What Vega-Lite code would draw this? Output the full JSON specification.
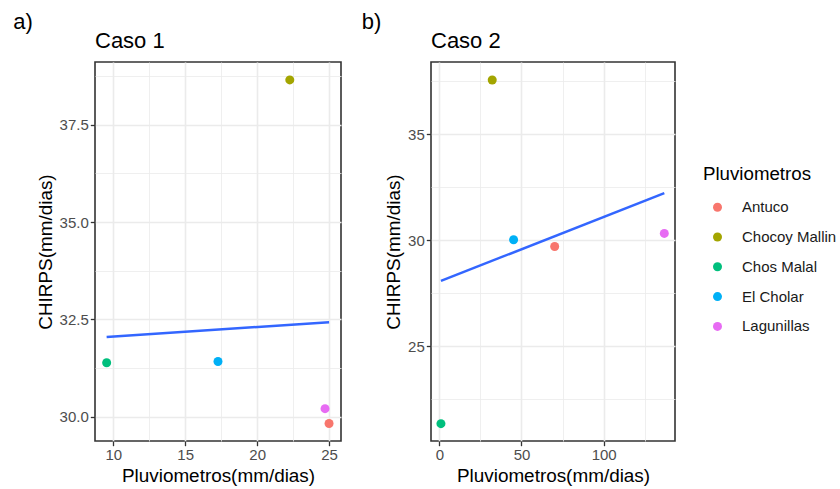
{
  "$schema": "https://vega.github.io/schema/vega-lite/v6.json",
  "padding": {"left": 13, "top": 11, "right": 0, "bottom": 0},
  "background": "white",
  "config": {
    "font": "Liberation Sans",
    "view": {"stroke": "#333333", "strokeWidth": 1.6},
    "axis": {
      "domain": false,
      "grid": true,
      "gridColor": "#EBEBEB",
      "tickColor": "#333333",
      "tickSize": 4.7,
      "tickWidth": 1.3,
      "labelFont": "Liberation Sans",
      "labelFontSize": 15,
      "labelColor": "#4D4D4D",
      "labelPadding": 2,
      "titleFont": "Liberation Sans",
      "titleFontSize": 18.9,
      "titleFontWeight": "normal",
      "titleColor": "#000000"
    },
    "title": {"font": "Liberation Sans", "fontWeight": "normal", "color": "#000000"},
    "concat": {"spacing": 19}
  },
  "datasets": {
    "caso1": [
      {"estacion": "Antuco", "pluviometro": 25.0, "chirps": 29.83},
      {"estacion": "Chocoy Mallin", "pluviometro": 22.27, "chirps": 38.65},
      {"estacion": "Chos Malal", "pluviometro": 9.54, "chirps": 31.39},
      {"estacion": "El Cholar", "pluviometro": 17.28, "chirps": 31.42},
      {"estacion": "Lagunillas", "pluviometro": 24.72, "chirps": 30.21}
    ],
    "caso2": [
      {"estacion": "Antuco", "pluviometro": 70.2, "chirps": 29.70},
      {"estacion": "Chocoy Mallin", "pluviometro": 32.2, "chirps": 37.56},
      {"estacion": "Chos Malal", "pluviometro": 1.0, "chirps": 21.34},
      {"estacion": "El Cholar", "pluviometro": 45.2, "chirps": 30.02},
      {"estacion": "Lagunillas", "pluviometro": 136.9, "chirps": 30.32}
    ]
  },
  "hconcat": [
    {
      "title": {"text": "a)", "fontSize": 22, "anchor": "start", "frame": "bounds", "dx": -22, "offset": -5},
      "vconcat": [
        {
          "width": 246,
          "height": 379,
          "title": {"text": "Caso 1", "fontSize": 22, "anchor": "start", "frame": "group", "offset": 9},
          "data": {"name": "caso1"},
          "layer": [
            {
              "mark": {"type": "circle", "size": 81, "opacity": 1},
              "encoding": {
                "x": {
                  "field": "pluviometro", "type": "quantitative",
                  "scale": {"domain": [8.73, 25.83], "nice": false, "zero": false},
                  "axis": {
                    "title": "Pluviometros(mm/dias)",
                    "values": [10, 12.5, 15, 17.5, 20, 22.5, 25],
                    "labelExpr": "datum.value % 5 === 0 ? format(datum.value, 'd') : ''",
                    "tickOpacity": {"condition": {"test": "datum.value % 5 !== 0", "value": 0}, "value": 1},
                    "gridWidth": {"condition": {"test": "datum.value % 5 !== 0", "value": 0.8}, "value": 1.6}
                  }
                },
                "y": {
                  "field": "chirps", "type": "quantitative",
                  "scale": {"domain": [29.38, 39.11], "nice": false, "zero": false},
                  "axis": {
                    "title": "CHIRPS(mm/dias)",
                    "values": [30, 31.25, 32.5, 33.75, 35, 36.25, 37.5, 38.75],
                    "labelExpr": "datum.value % 2.5 === 0 ? format(datum.value, '.1f') : ''",
                    "tickOpacity": {"condition": {"test": "datum.value % 2.5 !== 0", "value": 0}, "value": 1},
                    "gridWidth": {"condition": {"test": "datum.value % 2.5 !== 0", "value": 0.8}, "value": 1.6}
                  }
                },
                "color": {
                  "field": "estacion", "type": "nominal", "title": "Pluviometros",
                  "scale": {
                    "domain": ["Antuco", "Chocoy Mallin", "Chos Malal", "El Cholar", "Lagunillas"],
                    "range": ["#F8766D", "#A3A500", "#00BF7D", "#00B0F6", "#E76BF3"]
                  },
                  "legend": {
                    "orient": "none", "legendX": 608, "legendY": 103,
                    "titleFontSize": 18.7, "titleFontWeight": "normal", "titleColor": "#000000",
                    "titlePadding": 16,
                    "labelFontSize": 15, "labelColor": "#1A1A1A",
                    "symbolSize": 81, "symbolType": "circle", "symbolStrokeWidth": 0,
                    "symbolOffset": 7, "labelOffset": 17, "rowPadding": 13.8, "padding": 0
                  }
                }
              }
            },
            {
              "transform": [{"regression": "chirps", "on": "pluviometro"}],
              "mark": {"type": "line", "color": "#3366FF", "strokeWidth": 2.5},
              "encoding": {
                "x": {"field": "pluviometro", "type": "quantitative"},
                "y": {"field": "chirps", "type": "quantitative"}
              }
            }
          ]
        }
      ]
    },
    {
      "title": {"text": "b)", "fontSize": 22, "anchor": "start", "frame": "bounds", "dx": -22, "offset": -5},
      "vconcat": [
        {
          "width": 244,
          "height": 379,
          "title": {"text": "Caso 2", "fontSize": 22, "anchor": "start", "frame": "group", "offset": 9},
          "data": {"name": "caso2"},
          "layer": [
            {
              "mark": {"type": "circle", "size": 81, "opacity": 1},
              "encoding": {
                "x": {
                  "field": "pluviometro", "type": "quantitative",
                  "scale": {"domain": [-5.05, 143.4], "nice": false, "zero": false},
                  "axis": {
                    "title": "Pluviometros(mm/dias)",
                    "values": [0, 25, 50, 75, 100, 125],
                    "labelExpr": "datum.value % 50 === 0 ? format(datum.value, 'd') : ''",
                    "tickOpacity": {"condition": {"test": "datum.value % 50 !== 0", "value": 0}, "value": 1},
                    "gridWidth": {"condition": {"test": "datum.value % 50 !== 0", "value": 0.8}, "value": 1.6}
                  }
                },
                "y": {
                  "field": "chirps", "type": "quantitative",
                  "scale": {"domain": [20.52, 38.41], "nice": false, "zero": false},
                  "axis": {
                    "title": "CHIRPS(mm/dias)",
                    "values": [22.5, 25, 27.5, 30, 32.5, 35, 37.5],
                    "labelExpr": "datum.value % 5 === 0 ? format(datum.value, 'd') : ''",
                    "tickOpacity": {"condition": {"test": "datum.value % 5 !== 0", "value": 0}, "value": 1},
                    "gridWidth": {"condition": {"test": "datum.value % 5 !== 0", "value": 0.8}, "value": 1.6}
                  }
                },
                "color": {
                  "field": "estacion", "type": "nominal", "title": "Pluviometros"
                }
              }
            },
            {
              "transform": [{"regression": "chirps", "on": "pluviometro"}],
              "mark": {"type": "line", "color": "#3366FF", "strokeWidth": 2.5},
              "encoding": {
                "x": {"field": "pluviometro", "type": "quantitative"},
                "y": {"field": "chirps", "type": "quantitative"}
              }
            }
          ]
        }
      ]
    }
  ]
}
